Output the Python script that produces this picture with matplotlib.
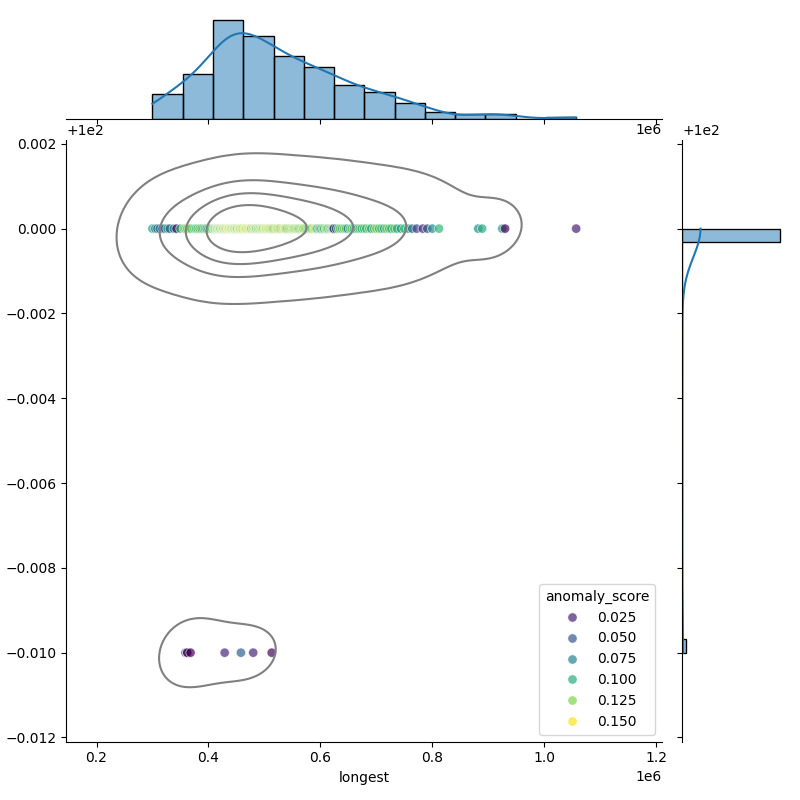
# -*- coding: utf-8 -*-
"""
Joint plot of longest vs shortest, coloured by anomaly score
"""
import numpy as np
import pandas as pd
import seaborn as sns
import matplotlib
matplotlib.use("Agg")
import matplotlib.pyplot as plt

# longest values (in thousands) for the rows with shortest == 100
longest_top_k = [
    300, 305, 309, 313, 318, 322, 327, 331, 338, 343, 350,
    356, 359, 362, 366, 369, 375, 378, 381, 384, 388, 391, 394, 397, 400, 403, 407,
    410, 411, 412, 414, 415, 416, 417, 419, 420, 421, 422, 424, 425, 426, 427, 429,
    430, 431, 432, 434, 435, 436, 437, 439, 440, 441, 442, 444, 445, 446, 447, 449,
    450, 451, 452, 454, 455, 456, 457, 459, 460, 462,
    464, 465, 467, 468, 470, 471, 473, 474, 476, 477, 479, 480, 482, 483, 485, 486,
    488, 489, 491, 492, 494, 495, 497, 498, 500, 501, 503, 504, 506, 507, 509, 510,
    512, 514, 516,
    518, 520, 522, 524, 526, 528, 530, 532, 534, 536, 537, 539, 541, 543, 545, 547,
    549, 551, 553, 555, 557, 559, 561, 563, 565, 567, 569, 570,
    573, 575, 578, 580, 583, 585, 588, 590, 593, 595, 598, 600, 602, 605, 607, 610,
    612, 614, 617, 619, 621, 623, 624,
    628, 632, 635, 639, 642, 646, 649, 653, 656, 660, 663, 667, 670, 674, 678,
    682, 687, 691, 696, 700, 705, 709, 714, 718, 723, 727, 732,
    737, 744, 750, 757, 764, 772, 783,
    791, 800, 812,
    882, 889,
    925, 930,
    1057,
]
score_top = [
    0.090, 0.085, 0.045, 0.080, 0.040, 0.070, 0.095, 0.050, 0.085, 0.015, 0.100,
    0.120, 0.110, 0.130, 0.095, 0.125, 0.105, 0.115, 0.100, 0.130, 0.085,
    0.110, 0.120, 0.095, 0.105, 0.125, 0.115,
    0.115, 0.130, 0.095, 0.152, 0.120, 0.105, 0.135, 0.125, 0.110, 0.150,
    0.100, 0.130, 0.120, 0.152, 0.115, 0.140, 0.125, 0.090, 0.150, 0.110,
    0.145, 0.120, 0.152, 0.105, 0.150, 0.140, 0.115, 0.125, 0.135, 0.152,
    0.120, 0.110, 0.150, 0.130, 0.100, 0.152, 0.125, 0.150, 0.115, 0.148,
    0.135, 0.120,
    0.140, 0.152, 0.125, 0.135, 0.110, 0.150, 0.120, 0.152, 0.130, 0.100,
    0.140, 0.115, 0.150, 0.125, 0.135, 0.095, 0.150, 0.120, 0.130, 0.110,
    0.148, 0.125, 0.140, 0.105, 0.135, 0.152, 0.115, 0.130, 0.120, 0.150,
    0.110, 0.138, 0.125, 0.150, 0.100,
    0.120, 0.135, 0.152, 0.110, 0.140, 0.125, 0.100, 0.150, 0.130, 0.115,
    0.150, 0.120, 0.095, 0.140, 0.110, 0.130, 0.125, 0.148, 0.105, 0.135,
    0.115, 0.145, 0.120, 0.100, 0.130, 0.110, 0.140, 0.125,
    0.110, 0.135, 0.095, 0.120, 0.140, 0.105, 0.125, 0.150, 0.115, 0.090,
    0.130, 0.075, 0.110, 0.120, 0.100, 0.140, 0.085, 0.125, 0.110, 0.095,
    0.130, 0.070, 0.020,
    0.060, 0.110, 0.125, 0.090, 0.130, 0.100, 0.065, 0.115, 0.120, 0.095,
    0.105, 0.080, 0.125, 0.100, 0.110,
    0.105, 0.120, 0.090, 0.110, 0.130, 0.100, 0.115, 0.085, 0.125, 0.110,
    0.095, 0.120,
    0.100, 0.085, 0.110, 0.095, 0.060, 0.040, 0.030,
    0.050, 0.080, 0.105,
    0.080, 0.100,
    0.090, 0.015,
    0.025,
]

# rows with shortest == 99.99
longest_bottom_k = [359, 362, 362, 368, 429, 458, 480, 513]
score_bottom = [0.030, 0.025, 0.020, 0.012, 0.028, 0.055, 0.027, 0.015]

shortest_levels = [100.0, 99.99]

df = pd.DataFrame({
    "longest": np.array(longest_top_k + longest_bottom_k) * 1000.0,
    "shortest": [shortest_levels[0]] * len(longest_top_k) + [shortest_levels[1]] * len(longest_bottom_k),
    "anomaly_score": score_top + score_bottom,
})

g = sns.JointGrid(data=df, x="longest", y="shortest", height=8)
sns.scatterplot(data=df, x="longest", y="shortest", hue="anomaly_score",
                palette="viridis", alpha=0.7, s=45, ax=g.ax_joint)
sns.kdeplot(data=df, x="longest", y="shortest", levels=5, bw_adjust=0.84,
            color="gray", ax=g.ax_joint)
sns.histplot(data=df, x="longest", bins=14, kde=True, kde_kws={"bw_adjust": 0.8},
             ax=g.ax_marg_x)
sns.histplot(data=df, y="shortest", bins=32, kde=True, ax=g.ax_marg_y)

# axis range as in the original (kde grid extent)
g.ax_joint.set_xlim(0.146e6, 1.21e6)
g.ax_joint.set_ylim(99.9879, 100.0021)

sns.move_legend(g.ax_joint, "lower right")

# plain savefig (no tight bbox) so the layout stays as the grid made it
g.figure.savefig("out.png", dpi=100)
